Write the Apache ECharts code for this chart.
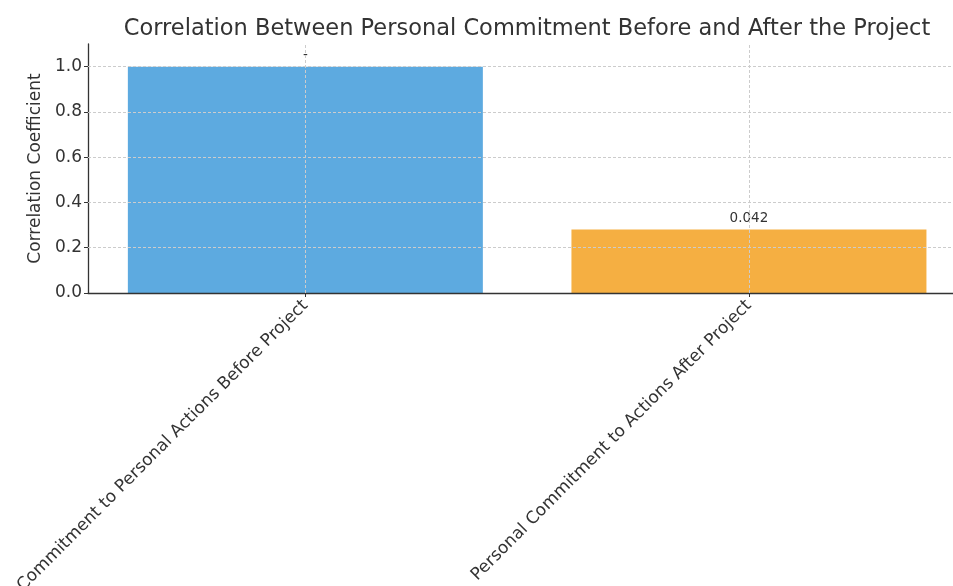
<!DOCTYPE html>
<html><head><meta charset="utf-8">
<script src="https://cdn.jsdelivr.net/npm/echarts@6/dist/echarts.min.js"></script>
<style>html,body{margin:0;padding:0;background:#fff}#c{width:953px;height:586px}</style>
</head><body><div id="c"></div>
<script>
const categories = ['Commitment to Personal Actions Before Project', 'Personal Commitment to Actions After Project'];
const values = [1.0, 0.28];
const barLabels = ['-', '0.042'];
const barColors = ['#5DAAE0', '#F5AF42'];
const yTicks = [0.2, 0.4, 0.6, 0.8, 1.0];
const xPositions = categories.map((c, i) => i);

const FONT = 'DejaVu Sans';
const chart = echarts.init(document.getElementById('c'));
chart.setOption({
  animation: false,
  backgroundColor: '#fff',
  textStyle: { fontFamily: FONT },
  title: {
    text: 'Correlation Between Personal Commitment Before and After the Project',
    left: 522, textAlign: 'center', top: 13,
    textStyle: { fontFamily: FONT, fontSize: 22.5, fontWeight: 'normal', color: '#333' }
  },
  grid: { left: 88, right: 0, top: 44, height: 249, containLabel: false, outerBoundsMode: 'none' },
  xAxis: {
    type: 'value', min: -0.49, max: 1.46,
    z: 5,
    axisLine: { show: true, onZero: false, lineStyle: { color: '#333', width: 1.3 } },
    axisTick: { show: true, customValues: xPositions, length: 4, lineStyle: { color: '#333' } },
    axisLabel: { show: true, customValues: xPositions, rotate: 45, fontSize: 17, color: '#333', margin: 10, fontFamily: FONT,
      formatter: v => categories[Math.round(v)] || '' },
    splitLine: { show: false }
  },
  yAxis: {
    type: 'value', min: 0, max: 1.1, interval: 0.2,
    z: 5,
    name: 'Correlation Coefficient',
    nameLocation: 'middle', nameGap: 41,
    nameTextStyle: { fontSize: 17, color: '#333', fontFamily: FONT },
    axisLine: { show: true, onZero: false, lineStyle: { color: '#333', width: 1.3 } },
    axisTick: { show: true, length: 4, lineStyle: { color: '#333' } },
    axisLabel: { fontSize: 17, color: '#333', margin: 6, fontFamily: FONT,
      formatter: v => v.toFixed(1),
      showMaxLabel: false },
    splitLine: { show: false }
  },
  series: [{
    type: 'bar',
    barWidth: 355,
    data: values.map((v, i) => ({ value: [xPositions[i], v], itemStyle: { color: barColors[i] },
      label: { show: true, position: 'top', distance: 4, formatter: barLabels[i],
        fontSize: 13.5, color: '#333', fontFamily: FONT } })),
    markLine: {
      silent: true, symbol: 'none', z: 10,
      label: { show: false },
      lineStyle: { color: '#cccccc', type: [3, 2], width: 1 },
      data: [
        ...yTicks.map(t => ({ yAxis: t })),
        ...xPositions.map(x => ({ xAxis: x }))
      ]
    }
  }]
});
</script>
</body></html>
